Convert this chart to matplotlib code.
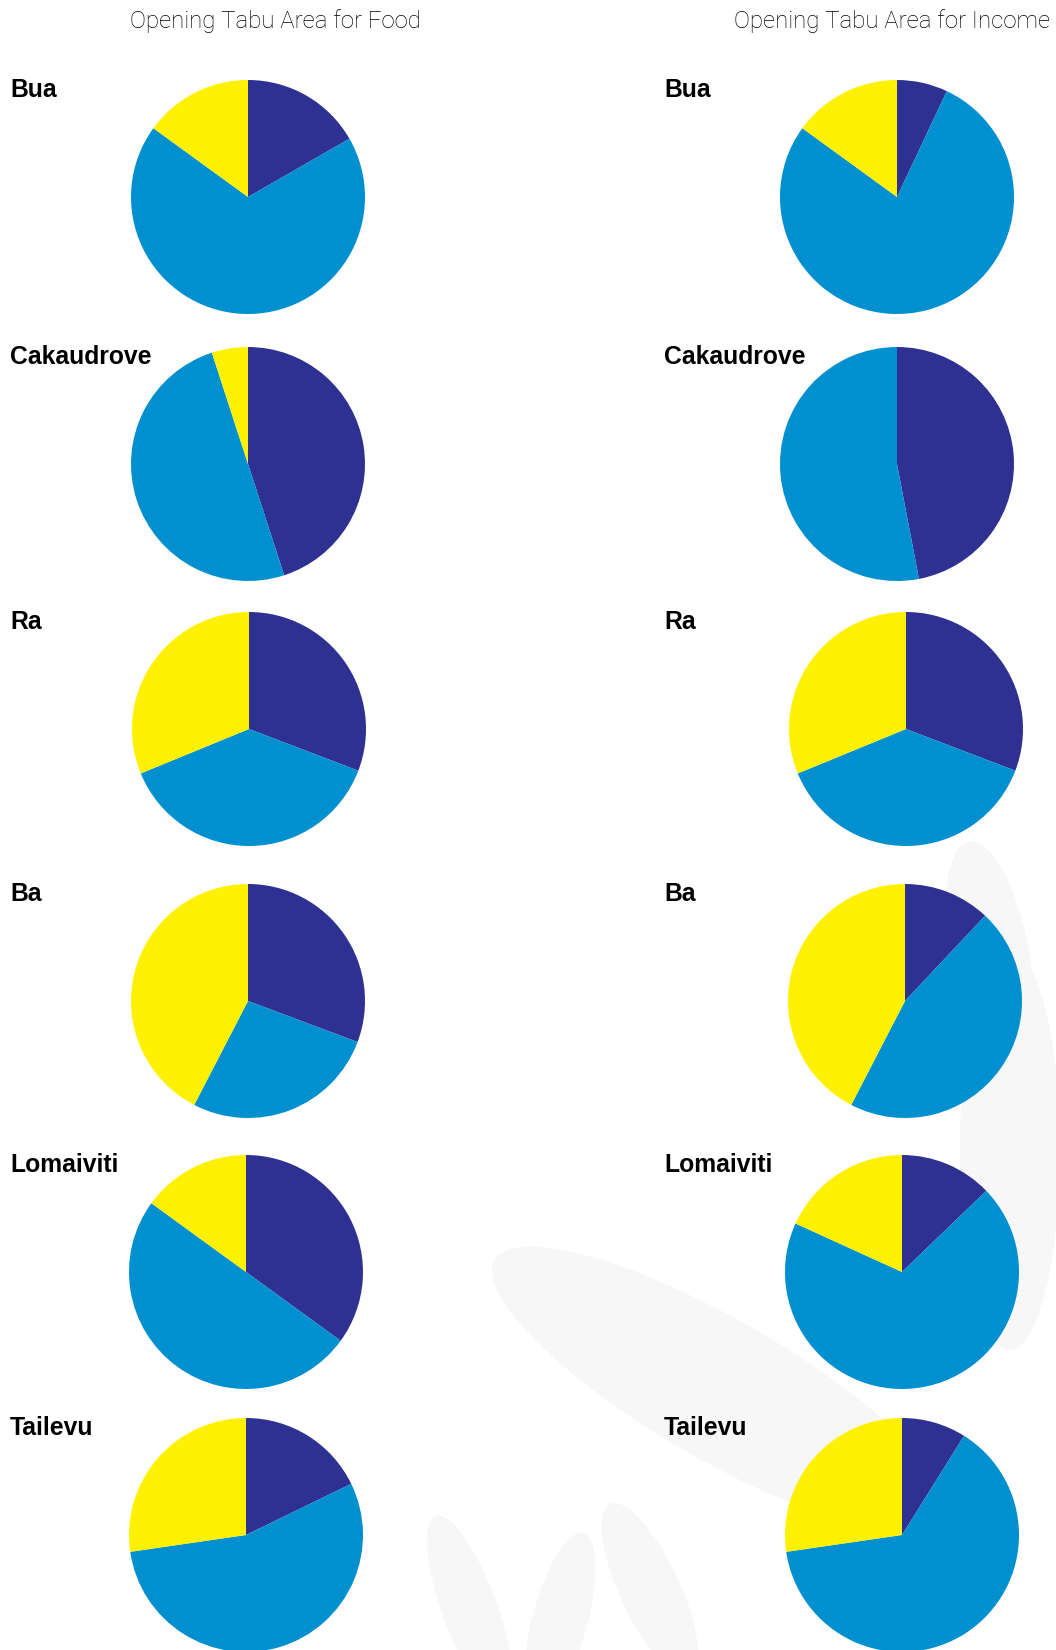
import matplotlib.pyplot as plt
from matplotlib.patches import Ellipse

regions = ["Bua", "Cakaudrove", "Ra", "Ba", "Lomaiviti", "Tailevu"]

# percent of answers per province, wedges go clockwise from 12 o'clock
food_dark = [16.7, 45.0, 30.8, 30.7, 35.0, 17.8]
food_blue = [68.3, 50.0, 38.0, 26.9, 50.0, 54.9]
food_yellow = [15.0, 5.0, 31.2, 42.4, 15.0, 27.3]

income_dark = [7.0, 47.0, 30.8, 12.0, 12.8, 8.9]
income_blue = [78.0, 53.0, 38.0, 45.6, 69.0, 63.8]
income_yellow = [15.0, 0.0, 31.2, 42.4, 18.2, 27.3]

colors = ["#2e3192", "#008fcf", "#fff100"]

W, H = 1056, 1650
fig = plt.figure(figsize=(W / 100, H / 100), dpi=100)
fig.patch.set_facecolor("white")

# very faint grey decoration behind the pies
bg = fig.add_axes([0, 0, 1, 1], zorder=0)
bg.set_xlim(0, W)
bg.set_ylim(H, 0)
bg.axis("off")
blobs = [
    (720, 1390, 520, 140, 30),
    (1010, 1150, 100, 400, 0),
    (990, 960, 80, 240, -10),
    (470, 1610, 55, 200, -20),
    (560, 1620, 55, 180, 15),
    (650, 1590, 60, 190, -25),
    (880, 1520, 200, 90, 45),
]
for x, y, w, h, a in blobs:
    bg.add_patch(Ellipse((x, y), w, h, angle=a, color="#f7f7f7", lw=0))

row_y = [197, 464, 729, 1001, 1272, 1535]
food_x = [248, 248, 249, 248, 246, 246]
income_x = [897, 897, 906, 905, 902, 902]
r = 117


def pie_at(cx, cy, vals):
    ax = fig.add_axes([(cx - r) / W, 1 - (cy + r) / H, 2 * r / W, 2 * r / H], zorder=2)
    ax.pie(vals, colors=colors, startangle=90, counterclock=False,
           radius=1, wedgeprops={"linewidth": 0})
    ax.set_xlim(-1, 1)
    ax.set_ylim(-1, 1)
    ax.axis("off")


for i, name in enumerate(regions):
    cy = row_y[i]
    pie_at(food_x[i], cy, [food_dark[i], food_blue[i], food_yellow[i]])
    pie_at(income_x[i], cy, [income_dark[i], income_blue[i], income_yellow[i]])
    for lx in (10, 664):
        fig.text(lx / W, 1 - (cy - 107) / H, name, ha="left", va="center",
                 fontsize=17.8, fontweight="bold", family="Liberation Sans", zorder=3)

fig.text(275 / W, 1 - 21 / H, "Opening Tabu Area for Food", ha="center", va="center",
         fontsize=17.3, fontweight="light", family="Roboto")
fig.text(1050 / W, 1 - 21 / H, "Opening Tabu Area for Income", ha="right", va="center",
         fontsize=17.3, fontweight="light", family="Roboto")

fig.savefig("out.png", dpi=100)
